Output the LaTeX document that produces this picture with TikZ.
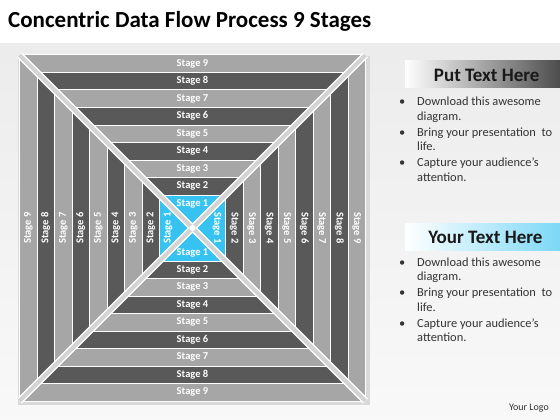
\documentclass[tikz,border=0pt]{standalone}
\usepackage{fontspec}
\setmainfont{Carlito}
\definecolor{stagelight}{HTML}{A6A6A6}
\definecolor{stagedark}{HTML}{595959}
\definecolor{stagecyan}{HTML}{36C3F1}
\definecolor{diagline}{HTML}{D4D4D4}
\definecolor{bodytext}{HTML}{333333}
\tikzset{
  stagelabel/.style={font=\fontsize{10.5}{11}\selectfont\bfseries, text=white, inner sep=0pt},
  headtext/.style={anchor=east, font=\fontsize{19}{22}\selectfont\bfseries, text=black!90},
  bullets/.style={anchor=base west, inner sep=0pt, font=\fontsize{12.4}{14.5}\selectfont, text=bodytext}
}
\newcommand{\bulletblock}{%
  \begin{tabular}[t]{@{}p{18pt}@{}l@{}}
    \textbullet & Download this awesome\\
                & diagram.\\[1.5pt]
    \textbullet & Bring your presentation\ \ to\\
                & life.\\[1.5pt]
    \textbullet & Capture your audience’s\\
                & attention.
  \end{tabular}}
\begin{document}
\begin{tikzpicture}[x=1pt, y=-1pt]
    \useasboundingbox (0,0) rectangle (560,420);
    % Background
    \fill[white] (0,0) rectangle (560,420);
    \shade[top color=gray!15, bottom color=gray!5] (0,44) rectangle (560,420);
    \node[anchor=base west, font=\fontsize{23}{26}\selectfont\bfseries, inner sep=0pt] (title) at (8,28) {Concentric Data Flow Process 9 Stages};

    % Concentric squares - stage 9 outside, stage 1 in the middle
    \begin{scope}[shift={(192.5,228)}]
        \fill[gray!30] (-175,-172) rectangle (177,177);
        \foreach \k/\col in {9/stagelight,8/stagedark,7/stagelight,6/stagedark,5/stagelight,4/stagedark,3/stagelight,2/stagedark}{
            \pgfmathsetmacro\r{33+(\k-1)*17.5}
            \filldraw[fill=\col, draw=white, line width=1pt] (-\r,-\r) rectangle (\r,\r);
        }
        \filldraw[fill=stagecyan, draw=white, line width=1pt] (-33,-33) rectangle (33,33);

        % Diagonals
        \draw[white, line width=7pt] (-173,-173) -- (173,173);
        \draw[white, line width=7pt] (-173,173) -- (173,-173);
        \draw[diagline, line width=4pt] (-173,-173) -- (173,173);
        \draw[diagline, line width=4pt] (-173,173) -- (173,-173);
        \fill[white] (0,0) circle (3);

        % Labels on the four sides
        \foreach \k in {1,...,9}{
            \pgfmathsetmacro\d{\k==1 ? 24.5 : 33+(\k-1.5)*17.5}
            \node[stagelabel] (t\k) at (0,-\d) {Stage \k};
            \node[stagelabel] (b\k) at (0,\d) {Stage \k};
            \node[stagelabel, rotate=90] (l\k) at (-\d,0) {Stage \k};
            \node[stagelabel, rotate=-90] (r\k) at (\d,0) {Stage \k};
        }
    \end{scope}

    % Text panels
    \shade[left color=white, right color=gray!60!black] (405,61) rectangle (560,88);
    \node[headtext] (head1) at (543,75) {Put Text Here};
    \node[bullets] (list1) at (399,106) {\bulletblock};

    \shade[left color=white, right color=stagecyan!65] (405,223) rectangle (560,250);
    \node[headtext] (head2) at (546,237) {Your Text Here};
    \node[bullets] (list2) at (399,266) {\bulletblock};

    \node[anchor=base east, font=\fontsize{10}{12}\selectfont, text=bodytext, inner sep=0pt] (logo) at (549,410) {Your Logo};
\end{tikzpicture}
\end{document}
